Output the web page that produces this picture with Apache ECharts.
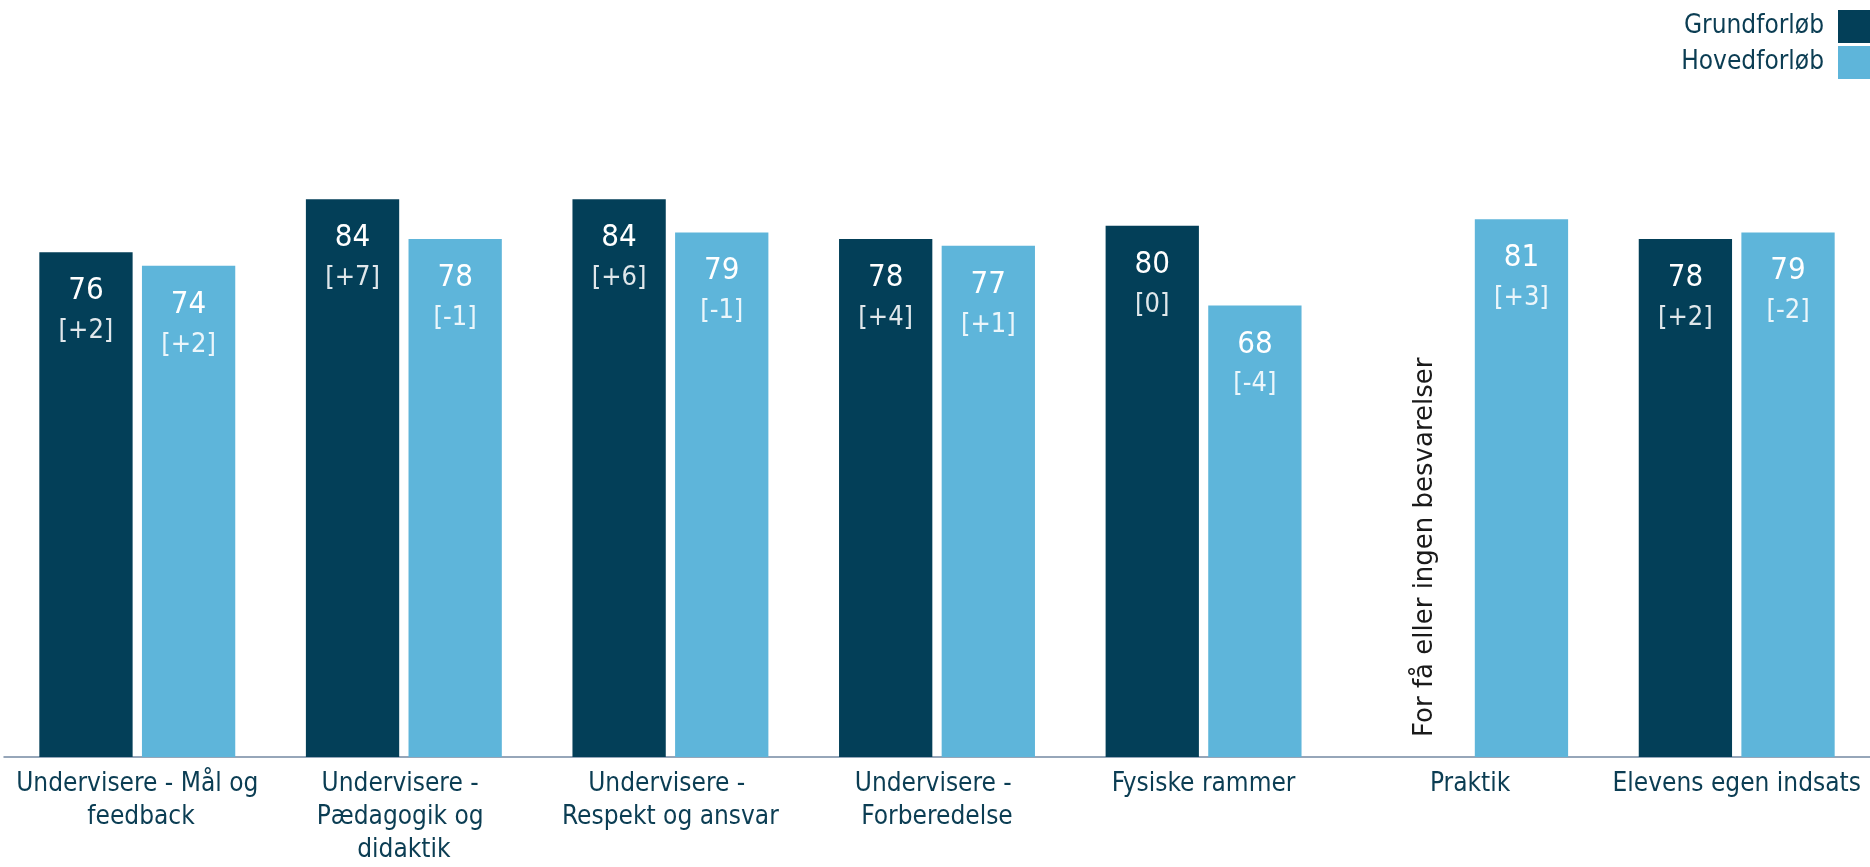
<!DOCTYPE html>
<html>
<head>
<meta charset="utf-8">
<script src="https://cdn.jsdelivr.net/npm/echarts@6/dist/echarts.min.js"></script>
<style>
  html, body { margin: 0; padding: 0; background: #ffffff; }
  #chart { width: 1870px; height: 867px; }
</style>
</head>
<body>
<div id="chart"></div>
<script>
const categories = [
  "Undervisere - Mål og feedback",
  "Undervisere - Pædagogik og didaktik",
  "Undervisere - Respekt og ansvar",
  "Undervisere - Forberedelse",
  "Fysiske rammer",
  "Praktik",
  "Elevens egen indsats"
];
const seriesNames = ["Grundforløb", "Hovedforløb"];
const grundValues = [76, 84, 84, 78, 80, null, 78];
const grundChanges = ["+2", "+7", "+6", "+4", "0", null, "+2"];
const hovedValues = [74, 78, 79, 77, 68, 81, 79];
const hovedChanges = ["+2", "-1", "-1", "+1", "-4", "+3", "-2"];
const missingNote = "For få eller ingen besvarelser";

const FONT = "'DejaVu Sans Condensed', 'DejaVu Sans', sans-serif";
const DARK = '#033f58';
const LIGHT = '#5eb5da';
const TEXT = '#0b3d53';

function valueLabel() {
  return {
    show: true,
    position: 'insideTop',
    distance: 20,
    fontFamily: FONT,
    formatter: null,
    rich: {
      v: { fontFamily: FONT, fontSize: 31, lineHeight: 38, color: '#ffffff' },
      d: { fontFamily: FONT, fontSize: 27, lineHeight: 42, color: 'rgba(255,255,255,0.88)' }
    }
  };
}

function buildData(values, changes) {
  return values.map(function (v, i) {
    if (v === null) {
      return {
        value: 0,
        label: {
          show: true,
          formatter: missingNote,
          position: 'insideBottom',
          distance: 20,
          rotate: 90,
          align: 'left',
          verticalAlign: 'middle',
          offset: [0, 6],
          fontFamily: "'DejaVu Sans', sans-serif",
          fontSize: 26,
          color: '#1a1a1a'
        }
      };
    }
    const lbl = valueLabel();
    lbl.formatter = '{v|' + v + '}\n{d|[' + changes[i] + ']}';
    return { value: v, label: lbl };
  });
}

const chart = echarts.init(document.getElementById('chart'), null, { renderer: 'canvas' });
chart.setOption({
  animation: false,
  backgroundColor: '#ffffff',
  legend: {
    orient: 'vertical',
    right: 0,
    top: 10,
    padding: 0,
    align: 'right',
    itemWidth: 32,
    itemHeight: 33,
    itemGap: 3,
    icon: 'rect',
    textStyle: { fontFamily: FONT, fontSize: 26, color: TEXT, padding: [8, 9, 0, 0] },
    data: seriesNames
  },
  grid: { left: 4, right: 0, top: 93, bottom: 104, containLabel: false },
  xAxis: {
    type: 'category',
    data: categories,
    axisLine: { show: true, lineStyle: { color: '#7489a2', width: 1.5 } },
    axisTick: { show: false },
    axisLabel: {
      interval: 0,
      margin: 11,
      fontFamily: FONT,
      fontSize: 26,
      lineHeight: 33,
      color: TEXT,
      width: 255,
      overflow: 'break',
      align: 'center'
    }
  },
  yAxis: {
    type: 'value',
    min: 0,
    max: 100,
    show: false,
    splitLine: { show: false }
  },
  series: [
    {
      name: seriesNames[0],
      type: 'bar',
      barWidth: '35%',
      barGap: '10%',
      itemStyle: { color: DARK },
      data: buildData(grundValues, grundChanges)
    },
    {
      name: seriesNames[1],
      type: 'bar',
      barWidth: '35%',
      barGap: '10%',
      itemStyle: { color: LIGHT },
      data: buildData(hovedValues, hovedChanges)
    }
  ]
});
</script>
</body>
</html>
